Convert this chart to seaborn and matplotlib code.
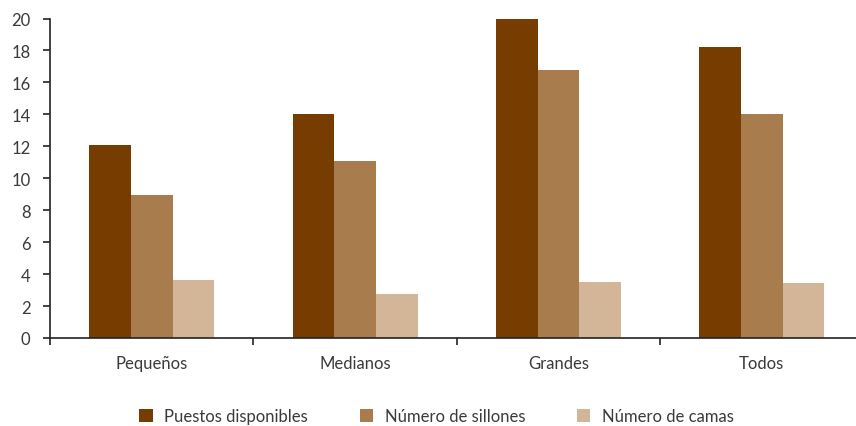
import matplotlib
matplotlib.use("Agg")
import matplotlib.pyplot as plt
import seaborn as sns
import pandas as pd

categories = ["Pequeños", "Medianos", "Grandes", "Todos"]
series_names = ["Puestos disponibles", "Número de sillones", "Número de camas"]
puestos = [12.1, 14.0, 20.0, 18.2]
sillones = [8.95, 11.1, 16.8, 14.0]
camas = [3.6, 2.75, 3.5, 3.45]
colors = ["#763C00", "#A97C4E", "#D3B597"]
yticks = [0, 2, 4, 6, 8, 10, 12, 14, 16, 18, 20]

rows = []
for name, vals in zip(series_names, [puestos, sillones, camas]):
    for c, v in zip(categories, vals):
        rows.append({"cat": c, "serie": name, "valor": v})
df = pd.DataFrame(rows)

sns.set_theme(style="white")
plt.rcParams["font.family"] = ["Lato", "DejaVu Sans"]
text_color = "#3a3a3a"
fs = 12

fig = plt.figure(figsize=(8.56, 4.27), dpi=100)
ax = fig.add_axes([50 / 856, 1 - 339 / 427, 1 - 50 / 856, (339 - 19.5) / 427])

sns.barplot(data=df, x="cat", y="valor", hue="serie", order=categories,
            hue_order=series_names, palette=colors, saturation=1,
            width=0.615, gap=0, errorbar=None, ax=ax, linewidth=0)

ax.set_ylim(0, 20)
ax.set_xlim(-0.5, 3.463)
ax.set_xlabel("")
ax.set_ylabel("")
ax.set_yticks(yticks)
ax.set_yticklabels([str(t) for t in yticks])

# boundary ticks (major, no labels) and category labels (minor, no tick marks)
ax.set_xticks([-0.5, 0.5, 1.5, 2.5])
ax.set_xticklabels([])
ax.set_xticks(range(len(categories)), minor=True)
ax.set_xticklabels(categories, minor=True)

for s in ["top", "right"]:
    ax.spines[s].set_visible(False)
for s in ["left", "bottom"]:
    ax.spines[s].set_color("#222222")
    ax.spines[s].set_linewidth(1.2)

ax.tick_params(axis="y", which="major", left=True, length=5, width=1.2,
               color="#222222", labelsize=fs, labelcolor=text_color, pad=9)
ax.tick_params(axis="x", which="major", bottom=True, length=5, width=1.2,
               color="#222222", direction="out")
ax.tick_params(axis="x", which="minor", bottom=True, length=0,
               labelsize=fs, labelcolor=text_color, pad=12)

handles, labels = ax.get_legend_handles_labels()
ax.get_legend().remove()
fig.legend(handles, labels, loc="center", bbox_to_anchor=(0.51, 0.023),
           ncol=3, frameon=False, fontsize=fs, labelcolor=text_color,
           handlelength=0.8, handleheight=0.85, handletextpad=0.7,
           columnspacing=3.1, borderpad=0)

fig.savefig("out.png", dpi=100)
